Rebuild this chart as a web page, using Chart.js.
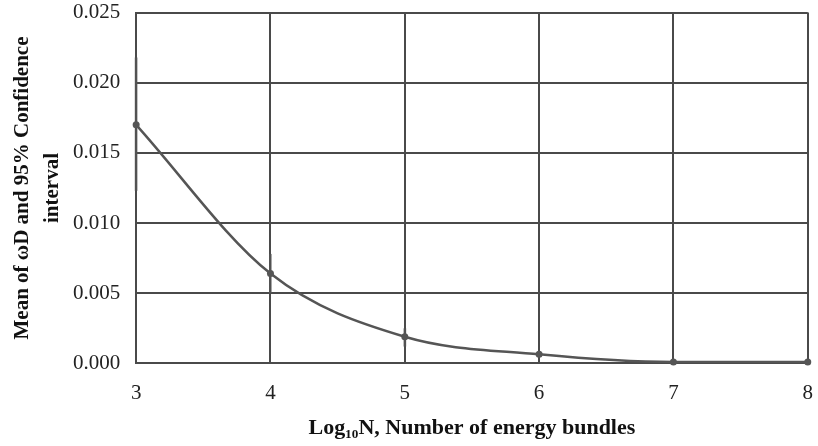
<!DOCTYPE html>
<html>
<head>
<meta charset="utf-8">
<script src="https://cdn.jsdelivr.net/npm/chart.js@4/dist/chart.umd.min.js"></script>
<style>
  html, body { margin: 0; padding: 0; background: #fff; overflow: hidden; }
  body { width: 818px; height: 446px; position: relative; }
  #wrap { position: absolute; left: 0; top: -16px; width: 830px; height: 462px; }
</style>
</head>
<body>
<div id="wrap"><canvas id="chart"></canvas></div>
<script>
// Datos
const logN = [3, 4, 5, 6, 7, 8];
const meanWd = [0.0170, 0.0064, 0.0019, 0.00065, 0.0001, 0.0001];
// Intervalo de confianza 95 %
const ciX = [3, 4, 5];
const ciLow = [0.0123, 0.0050, 0.0012];
const ciHigh = [0.0218, 0.0078, 0.0025];
const yTicks = [0, 0.005, 0.010, 0.015, 0.020, 0.025];

const gridColor = '#4a4a4a';
const serif = "'Liberation Serif', 'Times New Roman', serif";

// Dibuja las barras de error usando las escalas
const ciPlugin = {
    id: 'ciBars',
    beforeDatasetsDraw(chart) {
        const ctx = chart.ctx;
        const xs = chart.scales.x, ys = chart.scales.y;
        ctx.save();
        ctx.strokeStyle = 'rgba(90,90,90,0.55)';
        ctx.lineWidth = 3;
        ciX.forEach((x, i) => {
            const px = xs.getPixelForValue(x);
            ctx.beginPath();
            ctx.moveTo(px, ys.getPixelForValue(ciLow[i]));
            ctx.lineTo(px, ys.getPixelForValue(ciHigh[i]));
            ctx.stroke();
        });
        ctx.restore();
    }
};

new Chart(document.getElementById('chart'), {
    type: 'line',
    data: {
        datasets: [{
            data: logN.map((x, i) => ({ x: x, y: meanWd[i] })),
            borderColor: '#555',
            borderWidth: 2.5,
            backgroundColor: '#555',
            cubicInterpolationMode: 'monotone',
            pointRadius: 3.5,
            pointBackgroundColor: '#555',
            pointBorderWidth: 0,
            clip: false
        }]
    },
    options: {
        responsive: true,
        maintainAspectRatio: false,
        animation: false,
        layout: { padding: { top: 0, right: 0, left: 7, bottom: 0 } },
        plugins: { legend: { display: false }, tooltip: { enabled: false } },
        scales: {
            x: {
                type: 'linear',
                min: 3, max: 8,
                border: { color: gridColor, width: 2 },
                grid: { color: gridColor, lineWidth: 2, drawTicks: false },
                ticks: {
                    stepSize: 1,
                    color: '#222',
                    padding: 17,
                    font: { family: serif, size: 21 }
                },
                title: {
                    display: true,
                    text: 'Log\u2081\u2080N, Number of energy bundles',
                    color: '#111',
                    font: { family: serif, size: 22, weight: 'bold' },
                    padding: { top: -7, bottom: 4 }
                }
            },
            y: {
                min: 0, max: 0.025,
                afterBuildTicks(axis) { axis.ticks = yTicks.map(v => ({ value: v })); },
                border: { color: gridColor, width: 2 },
                grid: { color: gridColor, lineWidth: 2, drawTicks: false },
                ticks: {
                    color: '#222',
                    padding: 16,
                    font: { family: serif, size: 21 },
                    callback: v => v.toFixed(3)
                },
                title: {
                    display: true,
                    text: ['Mean of \u03c9D and 95% Confidence', 'interval'],
                    color: '#111',
                    font: { family: serif, size: 21, weight: 'bold', lineHeight: 1.45 },
                    padding: { top: 0, bottom: -11 }
                }
            }
        }
    },
    plugins: [ciPlugin]
});
</script>
</body>
</html>
